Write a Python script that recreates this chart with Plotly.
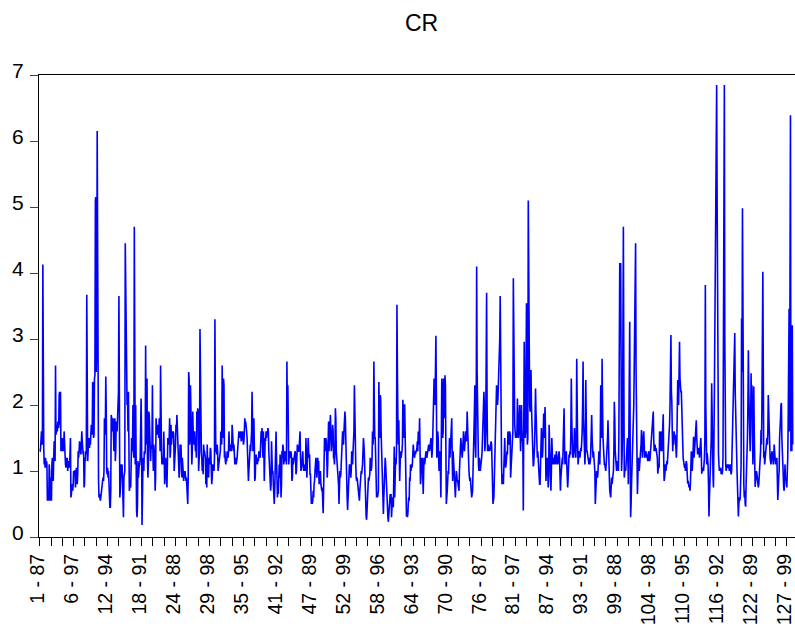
import plotly.graph_objects as go

# CR for 128 firms x 13 years (1987-1999), one line per firm
cr_firms_1_16 = [
    1.3, 1.3, 1.35, 1.55, 1.6, 1.5, 1.4, 4.13, 1.4, 1.35, 1.1, 1.2, 1.05,
    1.2, 1.05, 1.15, 1.1, 0.55, 0.6, 0.7, 0.55, 1.1, 1.0, 0.6, 0.55, 0.9,
    0.55, 1.1, 1.2, 1.0, 0.85, 1.2, 1.45, 1.2, 1.15, 2.6, 1.55, 1.6, 1.7,
    1.6, 1.75, 1.7, 1.65, 2.15, 2.2, 1.7, 2.2, 1.3, 1.35, 1.3, 1.5, 1.45,
    1.3, 1.35, 1.6, 1.5, 1.25, 1.1, 1.05, 1.2, 1.1, 1.2, 1.0, 1.15, 1.05,
    1.1, 1.05, 1.2, 1.5, 0.6, 0.65, 0.8, 0.75, 0.7, 0.8, 1.0, 0.95, 1.0,
    1.0, 0.75, 0.9, 1.05, 0.85, 0.8, 0.95, 1.3, 1.2, 1.3, 1.45, 1.4, 1.35,
    1.25, 1.4, 1.6, 1.45, 1.3, 1.25, 1.3, 0.75, 0.8, 1.2, 1.15, 1.3, 1.25,
    3.67, 1.2, 1.15, 1.3, 1.5, 1.45, 1.35, 1.5, 1.4, 1.55, 1.7, 1.65, 1.55,
    2.35, 2.3, 1.5, 1.55, 2.4, 2.45, 5.1, 5.15, 2.5, 2.9, 6.15, 2.5, 0.9,
    0.85, 0.6, 0.65, 0.6, 0.55, 0.6, 0.7, 0.65, 0.8, 0.85, 0.9, 0.85, 1.0,
    1.8, 1.55, 1.6, 2.43, 1.9, 1.0, 0.95, 1.05, 0.9, 1.0, 0.7, 0.55, 0.45,
    0.45, 0.7, 1.85, 1.8, 1.6, 1.65, 1.8, 1.5, 1.3, 1.6, 1.8, 1.15, 1.3,
    1.75, 1.7, 1.6, 1.8, 2.0, 2.2, 3.65, 2.5, 0.6, 0.7, 0.9, 1.1, 1.05,
    1.1, 0.9, 0.6, 0.3, 0.9, 1.0, 1.0, 4.45, 3.5, 4.1, 2.1, 2.0, 2.15,
    1.6, 2.2, 1.6, 0.7, 0.75, 0.8, 0.75, 1.1, 1.5, 1.3, 1.4, 2.0, 1.3,
]
cr_firms_17_32 = [
    1.2, 4.7, 2.5, 1.1, 2.0, 0.45, 0.4, 0.3, 0.5, 1.15, 0.9, 1.0, 1.1,
    1.1, 1.2, 1.6, 2.1, 1.5, 0.18, 0.6, 1.1, 1.2, 1.0, 1.3, 1.25, 1.3,
    2.9, 1.4, 2.35, 2.4, 1.2, 0.9, 1.1, 1.9, 1.85, 1.6, 1.2, 1.15, 1.35,
    1.35, 1.4, 2.3, 1.3, 1.0, 1.4, 1.3, 1.2, 0.7, 0.9, 1.8, 1.7, 1.55,
    1.6, 1.7, 1.65, 1.5, 1.8, 1.6, 1.3, 2.6, 1.4, 1.3, 1.1, 1.2, 1.2,
    1.1, 1.6, 1.3, 0.8, 1.0, 1.2, 1.15, 0.9, 0.75, 1.1, 1.5, 1.4, 1.45,
    1.5, 1.8, 1.2, 1.3, 1.7, 1.4, 1.5, 1.6, 1.5, 1.6, 1.55, 1.0, 1.1,
    1.3, 1.4, 1.7, 1.6, 1.85, 1.7, 1.3, 1.2, 1.1, 0.9, 1.0, 1.4, 1.3,
    1.4, 1.0, 0.9, 1.2, 1.1, 0.95, 0.85, 1.0, 0.9, 1.0, 0.95, 0.85, 0.9,
    0.8, 0.7, 0.5, 0.9, 2.5, 2.4, 1.4, 1.5, 2.3, 1.9, 1.2, 1.1, 1.3,
    1.9, 1.6, 1.5, 1.4, 1.6, 1.5, 1.3, 1.4, 1.2, 1.9, 1.7, 1.95, 1.9,
    1.0, 1.2, 1.3, 3.15, 2.0, 1.5, 1.3, 1.2, 1.0, 1.1, 0.95, 1.4, 1.3,
    1.3, 1.25, 1.2, 0.8, 1.0, 0.75, 1.4, 1.1, 1.0, 0.9, 1.2, 1.1, 1.2,
    1.35, 1.3, 1.0, 0.8, 0.9, 1.1, 1.05, 1.1, 1.0, 1.2, 3.3, 2.0, 1.3,
    1.3, 1.25, 1.4, 1.3, 1.0, 1.1, 1.05, 1.2, 1.25, 1.3, 1.6, 1.5, 1.4,
    2.6, 2.0, 1.5, 2.4, 2.3, 1.2, 1.3, 1.15, 1.1, 1.2, 1.15, 1.3, 1.2,
]
cr_firms_33_48 = [
    1.2, 1.3, 1.6, 1.4, 1.3, 1.35, 1.4, 1.3, 1.35, 1.7, 1.6, 1.4, 1.3,
    1.4, 1.3, 1.1, 1.15, 1.2, 1.1, 1.15, 1.2, 1.3, 1.35, 1.4, 1.6, 1.5,
    1.55, 1.5, 1.6, 1.45, 1.5, 1.55, 1.6, 1.5, 1.4, 1.45, 1.6, 1.8, 1.7,
    1.75, 1.7, 1.6, 1.5, 1.3, 1.1, 0.85, 1.0, 1.2, 1.3, 1.4, 1.3, 1.5,
    1.6, 2.2, 1.9, 1.3, 1.5, 1.8, 1.4, 0.85, 0.9, 1.2, 1.25, 1.15, 1.1,
    1.1, 1.2, 1.15, 1.3, 1.2, 1.25, 1.2, 1.4, 1.6, 1.5, 1.65, 1.3, 1.2,
    1.6, 1.4, 0.85, 1.2, 1.5, 1.45, 1.6, 1.5, 1.6, 1.55, 1.65, 1.6, 1.3,
    1.1, 1.0, 0.95, 0.7, 0.8, 1.45, 1.2, 0.95, 1.0, 0.8, 0.6, 0.5, 0.7,
    0.9, 1.3, 1.6, 1.2, 0.9, 0.6, 0.7, 0.65, 1.0, 1.1, 0.9, 1.25, 1.0,
    0.6, 0.8, 1.3, 1.2, 1.4, 1.35, 1.1, 1.25, 1.2, 1.3, 1.15, 1.2, 1.1,
    2.66, 1.8, 2.3, 1.5, 1.1, 1.2, 1.3, 1.25, 1.2, 1.3, 1.2, 0.85, 0.9,
    1.2, 1.1, 1.15, 1.2, 1.25, 1.3, 1.25, 0.95, 1.0, 1.2, 1.4, 1.35, 1.3,
    1.3, 1.35, 1.5, 1.6, 1.2, 1.0, 1.05, 1.1, 1.2, 1.3, 1.1, 1.0, 1.05,
    1.0, 1.1, 1.0, 1.5, 1.2, 0.9, 1.1, 1.2, 1.5, 1.3, 1.2, 1.25, 0.95,
    0.95, 0.7, 0.5, 0.55, 0.5, 0.55, 0.7, 0.6, 0.8, 0.85, 1.0, 1.1, 1.2,
    1.1, 0.9, 1.0, 1.2, 1.1, 1.15, 0.8, 0.85, 0.9, 1.0, 0.8, 0.75, 0.7,
]
cr_firms_49_64 = [
    0.75, 0.6, 0.36, 0.7, 1.2, 1.5, 1.4, 1.3, 1.5, 1.45, 1.2, 0.9, 1.1,
    1.5, 1.75, 1.3, 1.65, 1.5, 1.85, 1.6, 1.3, 1.4, 1.5, 1.7, 1.6, 1.2,
    1.2, 1.1, 1.3, 1.95, 1.8, 1.3, 1.2, 1.25, 1.1, 0.9, 0.8, 0.5, 0.7,
    1.0, 0.9, 0.95, 1.1, 1.4, 1.3, 1.6, 1.5, 1.4, 1.6, 1.7, 1.9, 1.8,
    1.3, 1.1, 0.9, 0.6, 0.41, 0.7, 0.85, 1.0, 1.1, 1.05, 1.1, 0.9, 1.0,
    1.3, 1.2, 1.1, 1.3, 1.5, 1.6, 2.3, 1.7, 1.3, 1.1, 0.9, 0.85, 0.9,
    0.8, 0.75, 0.6, 0.65, 0.55, 0.7, 0.9, 0.85, 1.0, 0.95, 1.0, 1.1, 1.3,
    1.5, 1.4, 1.25, 0.9, 0.6, 0.45, 0.3, 0.26, 0.5, 0.7, 0.75, 0.9, 0.85,
    0.9, 0.95, 1.2, 1.1, 1.0, 1.05, 1.2, 1.6, 1.4, 1.5, 2.66, 2.0, 1.5,
    1.5, 1.2, 0.8, 0.6, 0.65, 0.6, 0.65, 0.7, 2.35, 2.0, 1.5, 2.15, 2.1,
    1.6, 1.3, 1.1, 1.0, 0.7, 0.35, 0.6, 1.0, 0.9, 1.2, 1.1, 0.9, 0.8,
    0.8, 0.5, 0.3, 0.23, 0.4, 0.5, 0.6, 0.65, 0.55, 0.65, 0.3, 0.5, 0.6,
    0.5, 0.45, 0.9, 1.37, 0.6, 0.9, 1.2, 1.1, 1.3, 3.52, 2.5, 1.8, 1.4,
    1.77, 1.3, 0.85, 1.1, 1.3, 1.2, 1.25, 1.3, 1.4, 2.08, 1.7, 1.5, 2.0,
    2.0, 1.6, 1.0, 0.6, 0.31, 0.4, 0.3, 0.35, 0.5, 0.6, 0.55, 0.9, 0.85,
    1.1, 1.0, 1.1, 1.05, 1.1, 1.2, 1.4, 1.3, 1.25, 1.2, 1.3, 1.25, 1.3,
]
cr_firms_65_80 = [
    1.3, 1.35, 1.45, 1.3, 1.6, 1.4, 1.5, 1.8, 1.3, 0.8, 0.9, 1.2, 1.1,
    1.2, 0.9, 0.65, 1.0, 1.2, 1.1, 1.15, 1.2, 1.3, 1.25, 1.2, 1.25, 1.3,
    1.3, 1.4, 1.35, 1.3, 1.35, 1.4, 1.5, 1.45, 1.2, 1.3, 1.5, 1.8, 2.2,
    2.4, 2.2, 2.0, 2.5, 3.05, 2.2, 1.2, 1.3, 1.6, 1.5, 1.2, 1.0, 1.2,
    1.3, 1.0, 0.6, 1.5, 2.4, 2.2, 1.5, 1.6, 2.4, 2.0, 1.8, 2.45, 2.3,
    1.4, 0.5, 0.6, 0.7, 0.9, 1.0, 0.95, 1.3, 1.5, 1.2, 1.4, 1.6, 1.8,
    1.8, 1.2, 0.85, 1.3, 1.2, 1.05, 0.9, 0.75, 0.6, 0.8, 1.0, 0.95, 0.85,
    0.85, 0.8, 0.75, 0.7, 1.0, 1.3, 1.2, 1.5, 1.4, 1.3, 1.2, 1.3, 1.5,
    1.6, 1.45, 1.3, 1.4, 1.5, 1.6, 1.45, 1.5, 1.9, 1.6, 1.3, 1.1, 1.0,
    0.9, 0.85, 0.9, 0.8, 0.7, 0.6, 0.65, 0.7, 0.9, 1.2, 1.6, 1.9, 2.3,
    1.4, 1.2, 2.0, 4.1, 2.5, 1.6, 1.4, 1.1, 1.0, 1.2, 1.1, 1.0, 1.05,
    1.1, 1.2, 1.3, 1.5, 1.6, 1.9, 2.2, 2.0, 1.3, 1.4, 1.6, 2.5, 3.7,
    2.0, 1.3, 1.35, 1.4, 1.3, 1.35, 1.3, 1.4, 1.35, 1.45, 1.4, 1.2, 0.9,
    0.5, 0.55, 0.6, 0.9, 1.3, 1.6, 1.7, 1.9, 2.3, 2.1, 2.0, 2.1, 2.3,
    2.48, 2.6, 3.0, 3.65, 2.4, 1.5, 1.1, 0.8, 0.85, 0.95, 0.8, 1.0, 1.3,
    1.5, 1.2, 1.05, 1.1, 1.2, 1.3, 1.25, 1.6, 1.5, 1.4, 1.5, 1.6, 1.55,
]
cr_firms_81_96 = [
    0.9, 1.1, 1.3, 1.4, 1.5, 1.6, 3.92, 2.5, 2.0, 1.7, 1.6, 1.5, 1.55,
    1.5, 1.6, 2.1, 1.8, 1.5, 1.6, 1.8, 2.0, 1.6, 1.3, 1.5, 2.0, 1.6,
    1.5, 1.4, 0.4, 1.2, 2.96, 2.0, 1.5, 1.6, 2.5, 3.54, 1.8, 1.4, 1.5,
    5.1, 3.0, 2.4, 2.0, 1.9, 2.2, 2.53, 2.0, 1.6, 1.5, 1.3, 1.07, 1.1,
    1.2, 1.4, 1.8, 2.25, 1.9, 1.5, 1.3, 1.2, 1.3, 1.1, 1.0, 0.9, 0.8,
    0.8, 1.1, 1.3, 1.65, 1.4, 1.2, 1.3, 1.6, 1.87, 1.5, 1.7, 1.97, 1.6,
    0.85, 1.0, 1.1, 1.2, 1.0, 0.75, 0.9, 1.7, 1.3, 1.1, 0.85, 0.7, 1.0,
    1.5, 1.3, 1.1, 1.2, 1.15, 1.1, 1.2, 1.25, 1.2, 1.1, 1.3, 1.25, 1.15,
    1.1, 1.15, 1.2, 1.3, 1.2, 0.9, 0.7, 0.9, 1.1, 1.05, 1.2, 1.1, 1.3,
    1.5, 1.95, 1.4, 1.1, 1.15, 1.2, 1.3, 1.1, 1.0, 0.75, 0.9, 1.2, 1.25,
    1.2, 1.3, 1.25, 1.6, 2.4, 1.8, 1.3, 1.2, 1.3, 1.2, 1.4, 1.65, 1.5,
    1.3, 1.2, 1.5, 2.7, 2.0, 1.4, 1.1, 1.2, 1.25, 1.3, 1.2, 1.3, 1.35,
    1.3, 1.4, 1.6, 2.0, 2.66, 1.8, 1.5, 1.2, 1.1, 1.3, 2.38, 1.8, 1.3,
    1.3, 1.25, 1.2, 1.15, 1.1, 1.2, 1.1, 1.15, 1.3, 1.5, 1.85, 1.5, 1.2,
    1.2, 1.3, 1.2, 1.1, 1.0, 0.5, 0.7, 0.9, 1.0, 0.95, 0.9, 1.0, 1.1,
    1.3, 1.2, 1.1, 1.5, 2.3, 2.0, 1.5, 2.7, 2.0, 1.5, 1.3, 1.2, 1.1,
]
cr_firms_97_112 = [
    1.1, 1.05, 1.0, 1.1, 1.2, 1.3, 1.5, 1.77, 1.3, 1.0, 0.9, 0.7, 0.65,
    0.6, 0.75, 0.9, 0.8, 0.85, 0.9, 1.0, 1.3, 2.05, 1.8, 1.3, 1.2, 1.0,
    1.0, 1.1, 1.15, 1.1, 1.0, 1.5, 2.5, 4.15, 3.8, 4.15, 2.0, 1.0, 1.2,
    1.5, 2.8, 4.7, 2.5, 0.9, 1.0, 1.05, 1.0, 1.1, 1.2, 1.3, 1.5, 1.2,
    0.8, 1.5, 2.5, 3.26, 1.5, 0.3, 0.5, 0.8, 1.0, 1.1, 1.5, 1.8, 2.0,
    2.6, 3.6, 3.0, 4.45, 2.5, 1.2, 0.9, 0.65, 0.9, 1.2, 1.1, 1.0, 1.2,
    1.2, 1.3, 1.4, 1.62, 1.5, 1.2, 1.3, 1.4, 1.6, 1.4, 1.2, 1.3, 1.25,
    1.3, 1.2, 1.25, 1.2, 1.15, 1.25, 1.3, 1.2, 1.15, 1.2, 1.3, 1.4, 1.35,
    1.5, 1.6, 1.7, 1.9, 1.5, 1.3, 1.35, 1.4, 1.3, 1.35, 1.3, 1.25, 1.2,
    0.96, 1.0, 1.1, 1.05, 1.6, 1.4, 1.3, 1.6, 1.5, 1.3, 1.5, 1.6, 1.86,
    1.2, 0.85, 0.9, 1.0, 1.1, 1.0, 1.1, 1.15, 1.1, 1.2, 1.3, 1.55, 1.6,
    1.7, 2.0, 2.5, 3.06, 2.2, 2.05, 1.6, 1.3, 1.5, 1.4, 1.6, 1.5, 1.55,
    1.5, 1.3, 1.2, 1.4, 1.8, 2.38, 2.2, 2.0, 2.3, 2.96, 2.4, 2.2, 2.2,
    2.2, 1.8, 1.5, 1.3, 1.2, 1.15, 1.1, 1.05, 1.1, 1.0, 1.1, 1.15, 1.1,
    0.9, 0.81, 0.85, 0.8, 0.75, 0.8, 0.7, 0.8, 1.0, 1.3, 1.2, 1.0, 1.1,
    1.3, 1.52, 1.2, 1.3, 1.4, 1.5, 1.6, 1.77, 1.5, 1.3, 1.25, 1.3, 1.35,
]
cr_firms_113_128 = [
    1.3, 1.2, 1.3, 1.4, 1.5, 1.3, 0.96, 1.0, 1.05, 1.0, 1.0, 1.1, 1.2,
    1.5, 3.82, 2.0, 1.2, 1.1, 1.27, 1.2, 1.1, 0.8, 0.31, 0.6, 0.8, 1.0,
    1.0, 1.5, 2.33, 1.6, 1.1, 0.9, 0.75, 1.2, 2.2, 3.14, 4.0, 5.16, 5.5,
    6.85, 5.16, 3.39, 2.0, 1.27, 1.1, 1.0, 1.05, 1.0, 1.05, 0.95, 1.0, 0.95,
    1.0, 1.2, 3.74, 5.0, 6.85, 3.0, 1.19, 1.1, 1.0, 1.05, 1.1, 1.05, 1.1,
    1.1, 1.05, 1.0, 1.05, 1.1, 1.0, 0.95, 1.0, 1.3, 1.8, 1.7, 2.0, 2.2,
    2.6, 3.09, 2.2, 1.7, 1.6, 1.5, 1.0, 0.76, 0.5, 0.31, 0.5, 0.6, 0.55,
    0.6, 0.8, 1.1, 3.31, 2.5, 4.98, 2.0, 1.1, 0.8, 0.6, 0.7, 0.5, 0.46,
    0.8, 1.0, 1.2, 1.5, 2.0, 2.83, 2.2, 1.6, 1.4, 1.3, 1.6, 2.48, 2.0,
    2.3, 1.8, 1.1, 1.5, 2.28, 1.6, 1.0, 0.76, 0.85, 0.9, 1.0, 0.95, 0.8,
    0.8, 0.75, 0.8, 0.9, 1.0, 1.1, 1.3, 1.62, 1.4, 2.0, 3.0, 4.02, 2.5,
    1.2, 1.3, 1.1, 1.2, 1.35, 1.3, 1.4, 1.5, 1.4, 1.6, 2.15, 1.8, 1.5,
    1.3, 1.2, 1.15, 1.1, 1.2, 1.3, 1.25, 1.22, 1.1, 1.2, 1.4, 1.3, 1.2,
    1.1, 1.2, 1.15, 1.2, 0.9, 0.56, 0.7, 0.9, 1.0, 1.5, 1.6, 1.8, 2.0,
    2.03, 1.5, 1.2, 1.0, 0.81, 0.75, 0.7, 0.9, 1.1, 0.85, 0.9, 0.8, 0.75,
    1.0, 1.2, 1.8, 2.63, 3.46, 1.6, 6.02, 6.39, 1.3, 1.4, 1.3, 3.21, 1.4,
]

# labelled observations (firm - year), one every 75 observations
tick_labels = ["1 - 87", "6 - 97", "12 - 94", "18 - 91", "24 - 88", "29 - 98",
               "35 - 95", "41 - 92", "47 - 89", "52 - 99", "58 - 96", "64 - 93",
               "70 - 90", "76 - 87", "81 - 97", "87 - 94", "93 - 91", "99 - 88",
               "104 - 98", "110 - 95", "116 - 92", "122 - 89", "127 - 99"]

cr = (cr_firms_1_16 + cr_firms_17_32 + cr_firms_33_48 + cr_firms_49_64 +
      cr_firms_65_80 + cr_firms_81_96 + cr_firms_97_112 + cr_firms_113_128)
obs = list(range(len(cr)))

tick_vals = list(range(0, len(cr), 25))
tick_text = [tick_labels[v // 75] if v % 75 == 0 else "" for v in tick_vals]

font_family = "Arial, 'Liberation Sans', sans-serif"

fig = go.Figure()
fig.add_trace(go.Scatter(x=obs, y=cr, mode="lines",
                         line=dict(color="#0000FF", width=1.6),
                         hoverinfo="skip"))

fig.update_layout(
    width=795, height=628,
    margin=dict(l=39, r=0, t=75, b=91),
    paper_bgcolor="white",
    plot_bgcolor="white",
    showlegend=False,
    font=dict(family=font_family, color="black"),
    annotations=[dict(text="CR", x=0.5066, y=1.1126, xref="paper", yref="paper",
                      xanchor="center", yanchor="middle", showarrow=False,
                      font=dict(size=23, family=font_family, color="black"))],
)
fig.update_xaxes(
    range=[-1.5, 1668],
    tickmode="array", tickvals=tick_vals, ticktext=tick_text,
    ticks="outside", ticklen=8, tickcolor="black", tickwidth=1,
    tickangle=-90, tickfont=dict(size=19.5), automargin=False,
    ticklabeloverflow="allow", ticklabelshift=-2,
    showline=True, linecolor="black", linewidth=1, mirror=True,
    showgrid=False, zeroline=False,
)
fig.update_yaxes(
    range=[0, 7], dtick=1, tick0=0,
    ticks="outside", ticklen=8, tickcolor="#444", tickwidth=1,
    tickfont=dict(size=21), ticklabelstandoff=2, ticklabelshift=-4,
    automargin=False,
    showline=True, linecolor="black", linewidth=1,
    showgrid=False, zeroline=False,
)

# the page's default body margin would shift the figure by 8px
fig.write_html("out.html", config={"displayModeBar": False},
               post_script="document.body.style.margin = '0px';")
